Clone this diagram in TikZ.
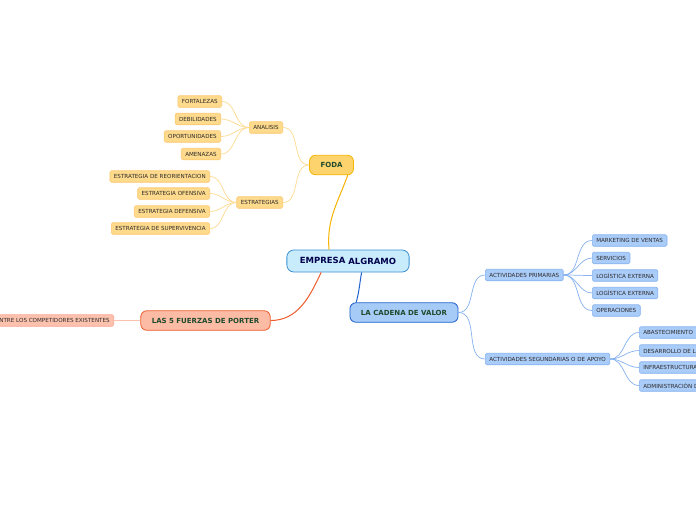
\documentclass[tikz,border=0pt]{standalone}
\usepackage{fontspec}
\setmainfont{DejaVu Sans}
\usetikzlibrary{positioning}

\definecolor{centrofill}{HTML}{C8ECFC}
\definecolor{centroline}{HTML}{3B8FD4}
\definecolor{amarillo}{HTML}{FDD36E}
\definecolor{amarilloline}{HTML}{F6B400}
\definecolor{amarillosub}{HTML}{FDDA8C}
\definecolor{amarillolink}{HTML}{FDDB90}
\definecolor{azul}{HTML}{A6CBF7}
\definecolor{azulline}{HTML}{1E63CC}
\definecolor{azulsub}{HTML}{A9CCF8}
\definecolor{azullink}{HTML}{86B2F0}
\definecolor{rojo}{HTML}{FBBBA4}
\definecolor{rojoline}{HTML}{EF5C2C}
\definecolor{rojosub}{HTML}{FCC2AE}
\definecolor{verdeosc}{HTML}{1F4A2C}
\definecolor{textosub}{HTML}{2E2A2A}

\begin{document}
\begin{tikzpicture}[x=1pt, y=-1pt,
    centro/.style={draw=centroline, fill=centrofill, rounded corners=7pt, line width=0.8pt,
        minimum height=22pt, inner xsep=13pt, text=blue!30!black,
        font=\fontsize{8.5}{10}\selectfont\bfseries},
    rama/.style={rounded corners=6pt, line width=0.8pt, minimum height=19.5pt, inner xsep=11pt,
        text=verdeosc, font=\fontsize{7}{8}\selectfont\bfseries},
    hoja/.style={rounded corners=1.5pt, line width=0.6pt, minimum height=11.5pt, inner xsep=4pt,
        inner ysep=1pt, text=textosub, font=\fontsize{5.6}{6.5}\selectfont},
    hojaA/.style={hoja, draw=amarillosub!80!orange, fill=amarillosub},
    hojaB/.style={hoja, draw=azullink, fill=azulsub},
    hojaC/.style={hoja, draw=rojosub!85!red, fill=rojosub}]

    \useasboundingbox[fill=white] (0,0) rectangle (696,520);

    % 1. Nodo central
    \node[centro] (empresa) at (348,261) {EMPRESA \raisebox{-1pt}{ALGRAMO}};

    % 2. Ramas principales
    \node[rama, draw=amarilloline, fill=amarillo] (foda) at (331.5,165) {FODA};
    \node[rama, draw=azulline, fill=azul] (cadena) at (404,312.5) {LA CADENA DE VALOR};
    \node[rama, draw=rojoline, fill=rojo] (porter) at (205.5,320.5) {LAS 5 FUERZAS DE PORTER};

    \draw[amarilloline, line width=1pt] (empresa.149) to[out=95,in=-110] (foda.-32);
    \draw[azulline, line width=1pt] (empresa.-40) to[out=-100,in=75] (cadena.168);
    \draw[rojoline, line width=1pt] (empresa.-157) to[out=-115,in=0] (porter.east);

    % 3. FODA
    \node[hojaA, anchor=east] (analisis) at (283,127.5) {ANALISIS};
    \node[hojaA, anchor=east] (estrategias) at (283,202.5) {ESTRATEGIAS};
    \draw[amarillolink, line width=0.7pt] (foda.west) to[out=180,in=0] (analisis.east);
    \draw[amarillolink, line width=0.7pt] (foda.west) to[out=180,in=0] (estrategias.east);

    \node[hojaA, anchor=east] (fortalezas) at (222,101.5) {FORTALEZAS};
    \node[hojaA, anchor=east] (debilidades) at (221,119) {DEBILIDADES};
    \node[hojaA, anchor=east] (oportunidades) at (221,136.5) {OPORTUNIDADES};
    \node[hojaA, anchor=east] (amenazas) at (221,154) {AMENAZAS};
    \foreach \h in {fortalezas,debilidades,oportunidades,amenazas}
        \draw[amarillolink, line width=0.7pt] (analisis.west) to[out=180,in=0] (\h.east);

    \node[hojaA, anchor=east] (reorientacion) at (210,176.5) {ESTRATEGIA DE REORIENTACION};
    \node[hojaA, anchor=east] (ofensiva) at (210,193.5) {ESTRATEGIA OFENSIVA};
    \node[hojaA, anchor=east] (defensiva) at (210,211.5) {ESTRATEGIA DEFENSIVA};
    \node[hojaA, anchor=east] (supervivencia) at (210,228.5) {ESTRATEGIA DE SUPERVIVENCIA};
    \foreach \h in {reorientacion,ofensiva,defensiva,supervivencia}
        \draw[amarillolink, line width=0.7pt] (estrategias.west) to[out=180,in=0] (\h.east);

    % 4. Cadena de valor
    \node[hojaB, anchor=west] (primarias) at (485,275) {ACTIVIDADES PRIMARIAS};
    \node[hojaB, anchor=west] (apoyo) at (485,359) {ACTIVIDADES SEGUNDARIAS O DE APOYO};
    \draw[azullink, line width=0.7pt] (cadena.east) to[out=0,in=180] (primarias.west);
    \draw[azullink, line width=0.7pt] (cadena.east) to[out=0,in=180] (apoyo.west);

    \node[hojaB, anchor=west] (marketing) at (592,240.5) {MARKETING DE VENTAS};
    \node[hojaB, anchor=west] (servicios) at (592,258) {SERVICIOS};
    \node[hojaB, anchor=west] (logistica1) at (592,275.5) {LOGÍSTICA EXTERNA};
    \node[hojaB, anchor=west] (logistica2) at (592,293) {LOGÍSTICA EXTERNA};
    \node[hojaB, anchor=west] (operaciones) at (592,310.5) {OPERACIONES};
    \foreach \h in {marketing,servicios,logistica1,logistica2,operaciones}
        \draw[azullink, line width=0.7pt] (primarias.east) to[out=0,in=180] (\h.west);

    \node[hojaB, anchor=west] (abastecimiento) at (639,332.5) {ABASTECIMIENTO};
    \node[hojaB, anchor=west] (desarrollo) at (639,350.5) {DESARROLLO DE LA TECNOLOGÍA};
    \node[hojaB, anchor=west] (infraestructura) at (639,367.5) {INFRAESTRUCTURA};
    \node[hojaB, anchor=west] (administracion) at (639,385.5) {ADMINISTRACIÓN DE RECURSOS HUMANOS};
    \foreach \h in {abastecimiento,desarrollo,infraestructura,administracion}
        \draw[azullink, line width=0.7pt] (apoyo.east) to[out=0,in=180] (\h.west);

    % 5. Porter
    \node[hojaC, anchor=east] (rivalidad) at (114,320.5) {ENTRE LOS COMPETIDORES EXISTENTES};
    \draw[rojosub, line width=0.9pt] (porter.west) -- (rivalidad.east);
\end{tikzpicture}
\end{document}
